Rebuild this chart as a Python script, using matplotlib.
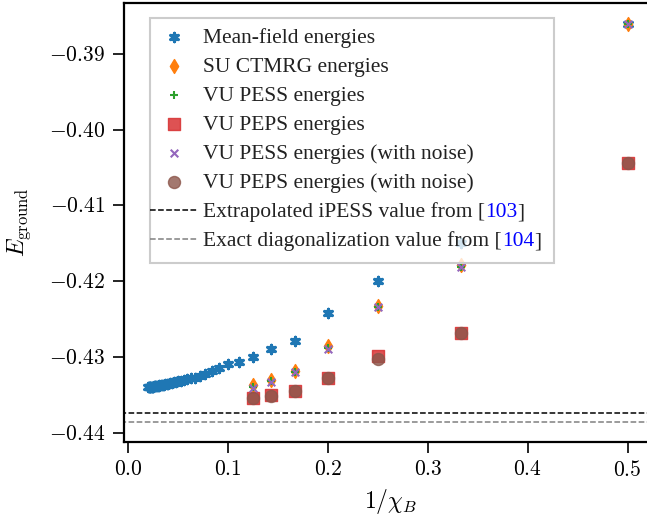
import numpy as np
import matplotlib
matplotlib.use('Agg')
import matplotlib.pyplot as plt
from matplotlib.ticker import FuncFormatter
from matplotlib.patches import Rectangle

plt.rcParams['mathtext.fontset'] = 'cm'
plt.rcParams['font.family'] = 'serif'
plt.rcParams['font.serif'] = ['Liberation Serif', 'DejaVu Serif']

# bond dimensions
chi_mf = np.arange(2, 51)
chi_vu = np.arange(2, 9)

# mean-field energies, chi = 2..50
e_mf = [-0.3861, -0.4150, -0.4200, -0.4242, -0.4279, -0.4290, -0.4300, -0.4306,
        -0.4309, -0.4314, -0.4319, -0.4322, -0.4325, -0.4327, -0.4328, -0.4329,
        -0.4330, -0.4331, -0.4332, -0.43328, -0.43334, -0.4334, -0.43346, -0.4335,
        -0.43354, -0.43358, -0.43362, -0.43366, -0.4337, -0.43372, -0.43374, -0.43376,
        -0.43378, -0.4338, -0.43382, -0.43384, -0.43386, -0.43388, -0.4339, -0.43391,
        -0.43392, -0.43393, -0.43394, -0.43395, -0.43396, -0.43397, -0.43398, -0.43399,
        -0.4340]
# chi = 2..8
e_su = [-0.3861, -0.4179, -0.4232, -0.4286, -0.4318, -0.4330, -0.4337]
e_pess = [-0.3861, -0.4181, -0.4234, -0.4288, -0.4320, -0.4332, -0.4340]
e_peps = [-0.40442, -0.4268, -0.4298, -0.4328, -0.4345, -0.4350, -0.43535]
e_pess_noise = [-0.3861, -0.4181, -0.4234, -0.4289, -0.4320, -0.4333, -0.4341]
e_peps_noise = [-0.40442, -0.4268, -0.4303, -0.4328, -0.4345, -0.4351, -0.43535]

e_ipess = -0.43744
e_ed = -0.4386

W, H = 647, 519
fs = 15.5
fig = plt.figure(figsize=(W/100, H/100), dpi=100)
ax = fig.add_axes([124.3/W, 77/H, 533.2/W, 439/H])

l1, = ax.plot([-1, 1], [e_ipess, e_ipess], color='k', ls='--', lw=1.1)
l2, = ax.plot([-1, 1], [e_ed, e_ed], color='gray', ls='--', lw=1.1)

h1 = ax.scatter(1/chi_mf, e_mf, marker=(6, 2, 0), s=36, linewidths=2.3, color='C0')
h2 = ax.scatter(1/chi_vu, e_su, marker='d', s=50, color='C1')
h3 = ax.scatter(1/chi_vu, e_pess, marker='+', s=40, linewidths=1.5, color='C2')
h4 = ax.scatter(1/chi_vu, e_peps, marker='s', s=85, color='C3', alpha=0.8)
h5 = ax.scatter(1/chi_vu, e_pess_noise, marker='x', s=30, linewidths=1.5, color='C4')
h6 = ax.scatter(1/chi_vu, e_peps_noise, marker='o', s=75, color='C5', alpha=0.8)

ax.set_xlim(-0.004, 0.53)
ax.set_ylim(-0.4412, -0.3833)
ax.set_xticks([0.0, 0.1, 0.2, 0.3, 0.4, 0.5])
ax.set_yticks([-0.44, -0.43, -0.42, -0.41, -0.40, -0.39])
ax.xaxis.set_major_formatter(FuncFormatter(lambda v, p: '$%.1f$' % v))
ax.yaxis.set_major_formatter(FuncFormatter(lambda v, p: '$%.2f$' % v))
ax.tick_params(direction='out', length=8, width=1.2, labelsize=fs, pad=6)
for sp in ax.spines.values():
    sp.set_linewidth(1.6)

ax.set_xlabel(r'$1/\chi_B$', fontsize=17, labelpad=4)
ax.set_ylabel(r'$E_{\rm ground}$', fontsize=17)
ax.yaxis.set_label_coords((33 - 124.3)/533.2, 0.5)

# legend frame drawn by hand (pixel box of the reference)
fx0, fy0, fx1, fy1 = 150, 18.5, 554, 262.5
frame = Rectangle((fx0/W, 1 - fy1/H), (fx1-fx0)/W, (fy1-fy0)/H,
                  transform=fig.transFigure, facecolor='white', alpha=0.8,
                  edgecolor='none', zorder=4)
ax.add_patch(frame)
frame_edge = Rectangle((fx0/W, 1 - fy1/H), (fx1-fx0)/W, (fy1-fy0)/H,
                       transform=fig.transFigure, facecolor='none',
                       edgecolor='#cccccc', lw=1.5, zorder=4)
ax.add_patch(frame_edge)

labels = ['Mean-field energies', 'SU CTMRG energies', 'VU PESS energies',
          'VU PEPS energies', 'VU PESS energies (with noise)',
          'VU PEPS energies (with noise)',
          'Extrapolated iPESS value from [',
          'Exact diagonalization value from [']
refs = ['103', '104']
leg = ax.legend([h1, h2, h3, h4, h5, h6, l1, l2], labels, fontsize=fs,
                loc='upper left',
                bbox_to_anchor=(150/W, 1 - 27.5/H), bbox_transform=fig.transFigure,
                borderaxespad=0, frameon=False, labelspacing=0.42,
                handlelength=2.2, handletextpad=0.27, borderpad=0)
for t in leg.get_texts():
    t.set_color('#222222')

# reference numbers in blue
for t, num in zip(leg.get_texts()[6:], refs):
    a1 = ax.annotate(num, xy=(1, 0), xycoords=t, va='bottom', ha='left',
                     fontsize=fs, color='blue', zorder=10)
    ax.annotate(']', xy=(1, 0), xycoords=a1, va='bottom', ha='left',
                fontsize=fs, color='#222222', zorder=10)

fig.savefig('out.png', dpi=100)
